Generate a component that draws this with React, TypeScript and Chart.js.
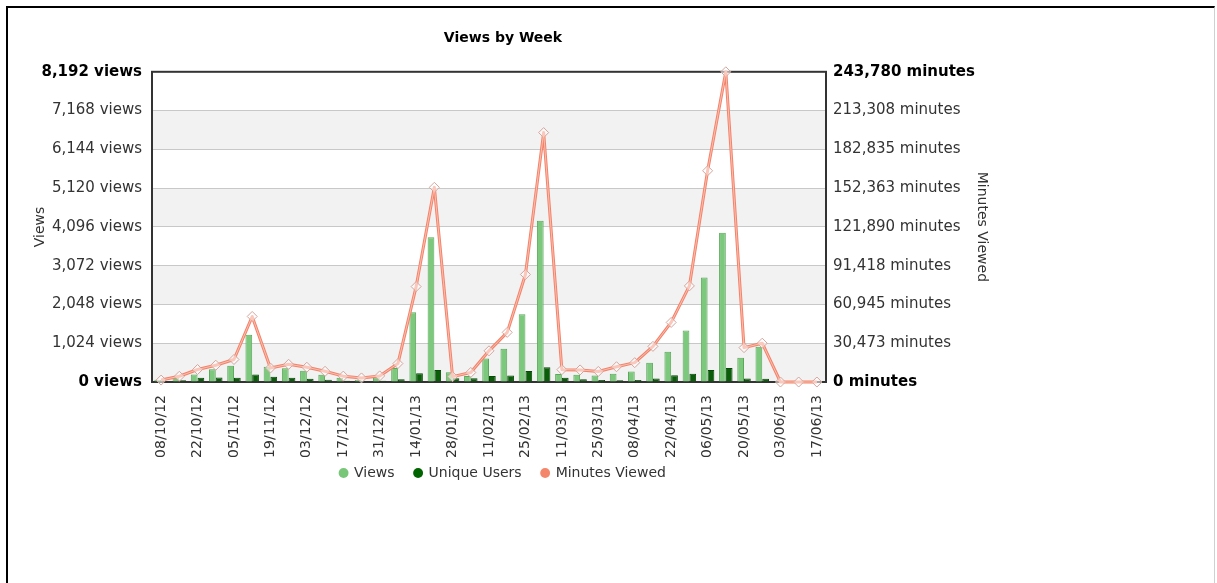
import React, { useEffect, useRef } from 'react';
import { Chart, registerables } from 'chart.js';

Chart.register(...registerables);

const weekLabels = [
  '08/10/12', '15/10/12', '22/10/12', '29/10/12', '05/11/12', '12/11/12', '19/11/12', '26/11/12',
  '03/12/12', '10/12/12', '17/12/12', '24/12/12', '31/12/12', '07/01/13', '14/01/13', '21/01/13',
  '28/01/13', '04/02/13', '11/02/13', '18/02/13', '25/02/13', '04/03/13', '11/03/13', '18/03/13',
  '25/03/13', '01/04/13', '08/04/13', '15/04/13', '22/04/13', '29/04/13', '06/05/13', '13/05/13',
  '20/05/13', '27/05/13', '03/06/13', '10/06/13', '17/06/13',
];

const views = [
  60, 150, 200, 340, 430, 1250, 400, 360, 300, 190, 110, 60, 120, 370, 1840, 3820, 260, 160, 620,
  880, 1790, 4260, 210, 190, 170, 220, 280, 510, 800, 1360, 2760, 3940, 640, 930, 0, 0, 0,
];

const uniqueUsers = [
  20, 45, 110, 120, 115, 200, 140, 115, 85, 60, 30, 20, 35, 70, 230, 320, 100, 100, 160, 170, 290,
  390, 110, 70, 50, 45, 55, 90, 180, 220, 320, 370, 90, 85, 0, 0, 0,
];

const minutesViewed = [
  1500, 4500, 9800, 13200, 17700, 51500, 11000, 13900, 11600, 8400, 4600, 3200, 4800, 14500, 75000,
  153000, 4200, 7500, 24500, 39000, 84500, 196000, 9700, 9500, 8300, 12000, 15200, 28000, 46800,
  75500, 166000, 243780, 27000, 30500, 0, 0, 0,
];

const viewTicks = [0, 1024, 2048, 3072, 4096, 5120, 6144, 7168, 8192];
const minuteTicks = [0, 30473, 60945, 91418, 121890, 152363, 182835, 213308, 243780];

const FONT = 'DejaVu Sans';
const legendColors = ['#78c678', '#006400', '#f4876b'];

export default function App() {
  const ref = useRef<HTMLCanvasElement>(null);

  useEffect(() => {
    if (!ref.current) return;

    const bands = {
      id: 'bands',
      beforeDraw(chart: any) {
        const { ctx, chartArea: a, scales } = chart;
        const y = scales.y;
        ctx.save();
        ctx.fillStyle = '#f2f2f2';
        for (let k = 0; k < viewTicks.length - 1; k += 2) {
          const y0 = y.getPixelForValue(viewTicks[k]);
          const y1 = y.getPixelForValue(viewTicks[k + 1]);
          ctx.fillRect(a.left, y1, a.right - a.left, y0 - y1);
        }
        ctx.restore();
      },
    };

    const frame = {
      id: 'frame',
      beforeDatasetsDraw(chart: any) {
        const { ctx, chartArea: a } = chart;
        ctx.save();
        ctx.strokeStyle = '#333';
        ctx.lineWidth = 2;
        ctx.strokeRect(a.left, a.top, a.right - a.left, a.bottom - a.top);
        ctx.restore();
      },
    };

    const lineHighlight = {
      id: 'lineHighlight',
      afterDatasetsDraw(chart: any) {
        const meta = chart.getDatasetMeta(2);
        if (!meta || !meta.data.length) return;
        const { ctx } = chart;
        ctx.save();
        ctx.strokeStyle = 'rgba(255,200,185,0.85)';
        ctx.lineWidth = 1;
        ctx.lineJoin = 'round';
        ctx.beginPath();
        meta.data.forEach((p: any, i: number) => {
          if (i === 0) ctx.moveTo(p.x, p.y);
          else ctx.lineTo(p.x, p.y);
        });
        ctx.stroke();
        ctx.restore();
      },
    };

    const legendShift = {
      id: 'legendShift',
      afterLayout(chart: any) {
        if (chart.legend) {
          chart.legend.top -= 14;
          chart.legend.bottom -= 14;
        }
      },
    };

    const tickFont = (last: number) => (c: any) => ({
      family: FONT,
      size: 15,
      weight: c.index === 0 || c.index === last ? 'bold' : 'normal',
    });
    const tickColor = (last: number) => (c: any) =>
      c.index === 0 || c.index === last ? '#000' : '#333';

    const chart = new Chart(ref.current, {
      type: 'bar',
      data: {
        labels: weekLabels,
        datasets: [
          {
            type: 'bar',
            label: 'Views',
            data: views,
            yAxisID: 'y',
            backgroundColor: '#7cc87c',
            borderColor: '#5aa85a',
            borderWidth: 1,
            categoryPercentage: 0.74,
            barPercentage: 1.0,
            order: 1,
          },
          {
            type: 'bar',
            label: 'Unique Users',
            data: uniqueUsers,
            yAxisID: 'y',
            backgroundColor: '#0a5e0a',
            borderColor: '#054a05',
            borderWidth: 1,
            categoryPercentage: 0.74,
            barPercentage: 1.0,
            order: 1,
          },
          {
            type: 'line',
            label: 'Minutes Viewed',
            data: minutesViewed,
            yAxisID: 'y1',
            borderColor: '#f2836b',
            borderWidth: 3,
            borderJoinStyle: 'round',
            tension: 0,
            pointStyle: 'rectRot',
            pointRadius: 5,
            pointBackgroundColor: 'rgba(255,255,255,0.55)',
            pointBorderColor: '#d4a59c',
            pointBorderWidth: 1,
            backgroundColor: 'rgba(255,255,255,0.55)',
            clip: false as any,
            order: 0,
          } as any,
        ],
      },
      options: {
        responsive: false,
        animation: false,
        layout: { padding: 0 },
        plugins: {
          title: {
            display: true,
            text: 'Views by Week',
            color: '#000',
            font: { family: FONT, size: 14, weight: 'bold' },
            padding: { top: 22, bottom: 25 },
          },
          legend: {
            position: 'bottom',
            labels: {
              usePointStyle: true,
              pointStyle: 'circle',
              boxWidth: 7,
              boxHeight: 7,
              padding: 20,
              color: '#333',
              font: { family: FONT, size: 14 },
              sort: (a: any, b: any) => a.datasetIndex - b.datasetIndex,
              generateLabels: (c: any) => {
                const items = (Chart.defaults.plugins.legend.labels as any).generateLabels(c);
                return items.map((it: any) => ({
                  ...it,
                  fillStyle: legendColors[it.datasetIndex],
                  strokeStyle: legendColors[it.datasetIndex],
                  pointStyle: 'circle',
                  lineWidth: 0,
                }));
              },
            },
          },
          tooltip: { enabled: false },
        },
        scales: {
          x: {
            grid: { display: false },
            border: { display: false },
            ticks: {
              autoSkip: false,
              minRotation: 90,
              maxRotation: 90,
              padding: 5,
              color: '#333',
              font: { family: FONT, size: 14 },
              callback: (_v: any, i: number) => (i % 2 === 0 ? weekLabels[i] : ''),
            },
            afterFit: (s: any) => {
              s.height = 78;
            },
          },
          y: {
            position: 'left',
            min: 0,
            max: 8192,
            afterBuildTicks: (s: any) => {
              s.ticks = viewTicks.map((v) => ({ value: v }));
            },
            grid: { color: '#c8c8c8', drawTicks: false },
            border: { display: false },
            ticks: {
              padding: 10,
              font: tickFont(viewTicks.length - 1) as any,
              color: tickColor(viewTicks.length - 1) as any,
              callback: (v: any) => `${Number(v).toLocaleString('en-US')} views`,
            },
            title: {
              display: true,
              text: 'Views',
              color: '#333',
              font: { family: FONT, size: 14 },
              padding: { top: 24, bottom: 0 },
            },
            afterFit: (s: any) => {
              s.width = 144;
            },
          },
          y1: {
            position: 'right',
            min: 0,
            max: 243780,
            afterBuildTicks: (s: any) => {
              s.ticks = minuteTicks.map((v) => ({ value: v }));
            },
            grid: { display: false, drawTicks: false },
            border: { display: false },
            ticks: {
              padding: 7,
              font: tickFont(minuteTicks.length - 1) as any,
              color: tickColor(minuteTicks.length - 1) as any,
              callback: (v: any) => `${Math.round(Number(v)).toLocaleString('en-US')} minutes`,
            },
            title: {
              display: true,
              text: 'Minutes Viewed',
              color: '#333',
              font: { family: FONT, size: 14 },
              padding: { top: 8, bottom: 0 },
            },
            afterFit: (s: any) => {
              s.width = 172;
            },
          },
        },
      } as any,
      plugins: [bands, frame, lineHighlight, legendShift],
    });

    return () => chart.destroy();
  }, []);

  return (
    <div>
      <div
        style={{
          position: 'fixed',
          left: 6,
          top: 6,
          width: 1209,
          height: 600,
          borderTop: '2px solid #000',
          borderLeft: '2px solid #000',
          borderRight: '1px solid #d0d0d0',
          boxSizing: 'border-box',
          background: '#fff',
        }}
      />
      <canvas
        ref={ref}
        width={990}
        height={496}
        style={{ position: 'fixed', left: 8, top: 8, width: 990, height: 496 }}
      />
    </div>
  );
}
